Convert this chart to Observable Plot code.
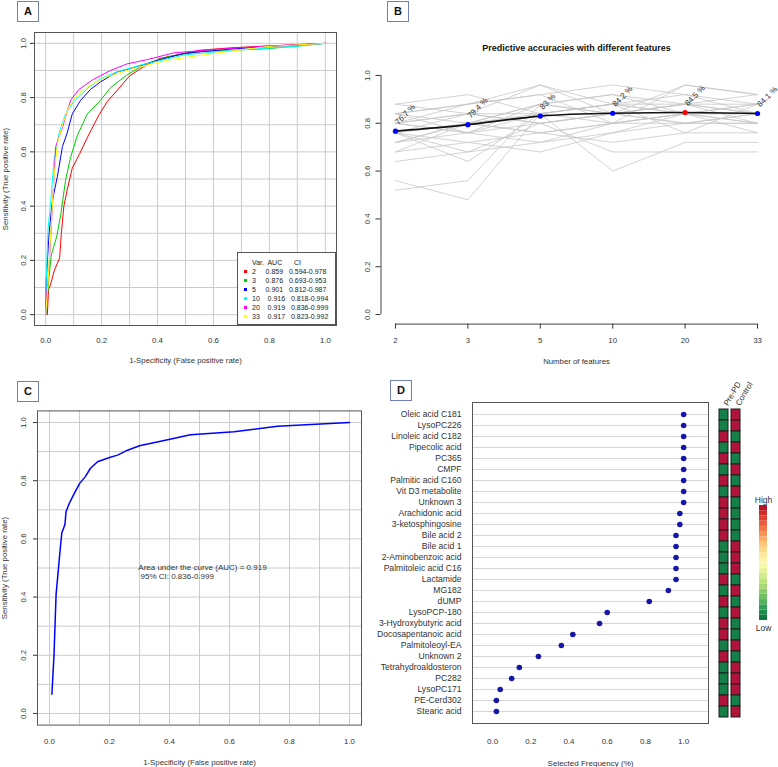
<!DOCTYPE html>
<html><head><meta charset="utf-8">
<script src="https://cdn.jsdelivr.net/npm/d3@7"></script>
<script src="https://cdn.jsdelivr.net/npm/@observablehq/plot@0.6"></script>
<style>
body{margin:0;background:#fff;font-family:"Liberation Sans",Arial,sans-serif;}
#root{position:relative;width:778px;height:767px;overflow:hidden;background:#fff;}
.pane{position:absolute;}
.pane svg{overflow:visible;display:block;}
.tag{position:absolute;width:20px;height:19px;border:1px solid #7080b6;font:bold 11px "Liberation Sans",Arial,sans-serif;text-align:center;line-height:19px;color:#111;background:#fff;}
text{white-space:pre;}
#legA{position:absolute;left:237px;top:252px;width:97px;height:71px;border:1px solid #555;background:#fff;font:7px "Liberation Sans",Arial,sans-serif;color:#222;}
#legA .row{position:absolute;left:0;height:9px;line-height:9px;white-space:pre;}
#legA .sw{position:absolute;left:6px;top:3px;width:3px;height:3px;}
#legA .tx{position:absolute;left:14px;top:0;}
</style></head>
<body><div id="root">
<div class="pane" id="pA" style="left:0;top:0;width:345px;height:370px"></div>
<div class="pane" id="pB" style="left:350px;top:0;width:428px;height:375px"></div>
<div class="pane" id="pC" style="left:0;top:380px;width:370px;height:387px"></div>
<div class="pane" id="pD" style="left:370px;top:380px;width:408px;height:387px"></div>
<div class="pane" id="pH" style="left:700px;top:380px;width:78px;height:387px"></div>
<div class="pane" id="pL" style="left:745px;top:480px;width:33px;height:160px"></div>
<div id="legA"></div>
<div class="tag" style="left:17px;top:1px">A</div>
<div class="tag" style="left:387px;top:1px">B</div>
<div class="tag" style="left:17px;top:381px">C</div>
<div class="tag" style="left:390px;top:380px">D</div>
</div>
<script>
// ---------- Panel A data ----------
const aVars = ["2","3","5","10","20","33"];
const aAUC = ["0.859","0.876","0.901","0.916","0.919","0.917"];
const aCI = ["0.594-0.978","0.693-0.953","0.812-0.987","0.818-0.994","0.836-0.999","0.823-0.992"];
const aColors = ["#ff0000","#00cd00","#0000ff","#00ffff","#ff00ff","#ffff00"];
const aRoc2 = [[0,0],[0.006,0.0],[0.01,0.09],[0.02,0.12],[0.03,0.16],[0.042,0.19],[0.05,0.21],[0.056,0.30],[0.065,0.40],[0.077,0.46],[0.095,0.54],[0.12,0.59],[0.15,0.655],[0.19,0.735],[0.22,0.785],[0.25,0.82],[0.30,0.88],[0.35,0.914],[0.41,0.945],[0.554,0.975],[0.67,0.984],[0.79,0.99],[1,1]];
const aRoc3 = [[0,0],[0.005,0.05],[0.01,0.12],[0.02,0.22],[0.04,0.29],[0.054,0.37],[0.071,0.495],[0.089,0.58],[0.113,0.66],[0.149,0.74],[0.196,0.79],[0.232,0.837],[0.29,0.883],[0.35,0.92],[0.435,0.95],[0.554,0.97],[0.79,0.98],[1,1]];
const aRoc5 = [[0,0],[0.002,0.125],[0.012,0.30],[0.024,0.42],[0.042,0.51],[0.06,0.62],[0.077,0.67],[0.095,0.74],[0.125,0.79],[0.16,0.83],[0.196,0.858],[0.256,0.895],[0.315,0.91],[0.375,0.93],[0.494,0.963],[0.673,0.98],[1,1]];
const aRoc10 = [[0,0],[0.002,0.125],[0.008,0.31],[0.018,0.42],[0.03,0.57],[0.048,0.67],[0.071,0.74],[0.10,0.785],[0.149,0.834],[0.196,0.87],[0.256,0.895],[0.34,0.92],[0.494,0.957],[0.673,0.975],[0.887,0.988],[1,1]];
const aRoc20 = [[0,0],[0.002,0.05],[0.012,0.175],[0.024,0.40],[0.036,0.62],[0.06,0.69],[0.089,0.79],[0.119,0.83],[0.167,0.865],[0.232,0.90],[0.29,0.924],[0.363,0.94],[0.458,0.965],[0.613,0.978],[0.79,0.99],[1,1]];
const aRoc33 = [[0,0],[0.008,0.11],[0.018,0.30],[0.03,0.51],[0.042,0.63],[0.06,0.70],[0.083,0.766],[0.113,0.81],[0.16,0.846],[0.22,0.877],[0.315,0.908],[0.435,0.938],[0.60,0.963],[0.79,0.988],[1,1]];
const aCurves = [aRoc2, aRoc3, aRoc5, aRoc10, aRoc20, aRoc33];
const rocTicks = [0,0.2,0.4,0.6,0.8,1.0];
const rocGrid = [0,0.1,0.2,0.3,0.4,0.5,0.6,0.7,0.8,0.9,1.0];

// ---------- Panel B data ----------
const bTitle = "Predictive accuracies with different features";
const bFeatures = [2,3,5,10,20,33];
const bAccuracy = [0.767,0.794,0.830,0.842,0.845,0.841];
const bLabels = ["76.7 %","79.4 %","83 %","84.2 %","84.5 %","84.1 %"];
const bRuns = [
 [0.56,0.48,0.84,0.88,0.84,0.84],
 [0.52,0.56,0.88,0.84,0.88,0.84],
 [0.64,0.68,0.72,0.80,0.80,0.80],
 [0.68,0.72,0.76,0.72,0.76,0.76],
 [0.72,0.76,0.80,0.84,0.80,0.84],
 [0.72,0.80,0.84,0.60,0.72,0.72],
 [0.76,0.72,0.68,0.76,0.80,0.80],
 [0.76,0.80,0.88,0.92,0.88,0.88],
 [0.76,0.84,0.96,0.88,0.92,0.88],
 [0.80,0.84,0.80,0.84,0.88,0.92],
 [0.80,0.76,0.84,0.88,0.84,0.80],
 [0.80,0.88,0.92,0.96,0.92,0.84],
 [0.84,0.80,0.76,0.80,0.84,0.88],
 [0.84,0.88,0.96,0.84,0.96,0.92],
 [0.84,0.76,0.88,0.92,0.84,0.88],
 [0.88,0.84,0.80,0.84,0.80,0.84],
 [0.88,0.92,0.84,0.88,0.88,0.84],
 [0.76,0.64,0.84,0.80,0.84,0.76],
 [0.72,0.80,0.88,0.84,0.88,0.80],
 [0.80,0.84,0.84,0.88,0.76,0.88],
 [0.68,0.80,0.76,0.80,0.84,0.84],
 [0.84,0.88,0.92,0.80,0.96,0.92],
 [0.76,0.68,0.80,0.68,0.68,0.68],
 [0.80,0.76,0.72,0.76,0.84,0.80]
];
const bYTicks = [0,0.2,0.4,0.6,0.8,1.0];

// ---------- Panel C data ----------
const cFpr = [0.008,0.015,0.022,0.03,0.037,0.041,0.05,0.052,0.055,0.065,0.078,0.10,0.12,0.136,0.16,0.20,0.227,0.26,0.30,0.39,0.47,0.615,0.76,1.0];
const cTpr = [0.066,0.20,0.41,0.50,0.58,0.62,0.645,0.655,0.693,0.72,0.747,0.79,0.815,0.842,0.865,0.88,0.888,0.905,0.92,0.94,0.958,0.968,0.987,1.0];
const cNote = "Area under the curve (AUC) = 0.919\n 95% CI: 0.836-0.999";

// ---------- Panel D data ----------
const dNames = ["Oleic acid C181","LysoPC226","Linoleic acid C182","Pipecolic acid","PC365","CMPF","Palmitic acid C160","Vit D3 metabolite","Unknown 3","Arachidonic acid","3-ketosphingosine","Bile acid 2","Bile acid 1","2-Aminobenzoic acid","Palmitoleic acid C16","Lactamide","MG182","dUMP","LysoPCP-180","3-Hydroxybutyric acid","Docosapentanoic acid","Palmitoleoyl-EA","Unknown 2","Tetrahydroaldosteron","PC282","LysoPC171","PE-Cerd302","Stearic acid"];
const dFreq = [1.0,1.0,1.0,1.0,1.0,1.0,1.0,1.0,1.0,0.98,0.98,0.96,0.96,0.96,0.96,0.96,0.92,0.82,0.60,0.56,0.42,0.36,0.24,0.14,0.10,0.04,0.02,0.02];
const dXTicks = [0,0.2,0.4,0.6,0.8,1.0];
const hmGroups = ["Pre-PD","Control"];
const dPrePD   = [0,0,1,0,1,0,1,0,1,1,1,1,0,0,0,1,0,1,0,1,1,0,1,0,0,0,1,0];
const dControl = [1,1,0,1,0,1,0,1,0,0,0,0,1,1,1,0,1,0,1,0,0,1,0,1,1,1,0,1];
const hmLegend = ["High","Low"];

// ---------- shared ----------
const FONT = '"Liberation Sans", Arial, sans-serif';
const baseStyle = {fontFamily: FONT, fontSize: "8px", color: "#333", background: "transparent", overflow: "visible"};
const f1 = d3.format(".1f");
const GRID = "#cccccc";
const rocGridMarks = () => [
  Plot.gridX({ticks: rocGrid, stroke: GRID, strokeOpacity: 1, strokeWidth: 1}),
  Plot.gridY({ticks: rocGrid, stroke: GRID, strokeOpacity: 1, strokeWidth: 1})
];

// ---------- Panel A ----------
const plotA = Plot.plot({
  width: 345, height: 370,
  marginLeft: 34, marginRight: 9, marginTop: 32, marginBottom: 45,
  style: baseStyle,
  x: {domain: [-0.04, 1.04]},
  y: {domain: [-0.04, 1.04]},
  marks: [
    ...rocGridMarks(),
    ...aCurves.map((c, k) => Plot.line(c, {x: d => d[0], y: d => d[1], stroke: aColors[k], strokeWidth: 1})),
    Plot.frame({stroke: "#555"}),
    Plot.axisX({ticks: rocTicks, tickFormat: f1, tickSize: 0, tickPadding: 12, label: "1-Specificity (False positive rate)", labelAnchor: "center", labelOffset: 37, labelArrow: "none", fontSize: 7.8}),
    Plot.axisY({ticks: rocTicks, tickFormat: f1, tickSize: 4, tickPadding: 5, tickRotate: -90, label: "Sensitivity (True positive rate)", labelAnchor: "center", labelOffset: 32.5, labelArrow: "none", fontSize: 7.8})
  ]
});
document.getElementById("pA").append(plotA);

// legend A (HTML)
const legA = document.getElementById("legA");
const hdr = document.createElement("div");
hdr.className = "row"; hdr.style.top = "5px";
hdr.innerHTML = '<span class="tx">Var.  AUC      CI</span>';
legA.append(hdr);
aVars.forEach((v, i) => {
  const r = document.createElement("div");
  r.className = "row"; r.style.top = (14 + 9 * i) + "px";
  const sp = v.length === 1 ? "     " : "    ";
  r.innerHTML = `<span class="sw" style="background:${aColors[i]}"></span><span class="tx">${v}${sp}${aAUC[i]}   ${aCI[i]}</span>`;
  legA.append(r);
});

// ---------- Panel B ----------
const bRunsLong = bRuns.flatMap((run, r) => run.map((v, i) => ({run: r, i: i + 1, v})));
const bBest = d3.maxIndex(bAccuracy);
const bMain = bAccuracy.map((v, i) => ({i: i + 1, v, label: bLabels[i], col: i === bBest ? "#ff0000" : "#0000ff"}));
const bXDom = [0.8, bFeatures.length + 0.2];
const bYDom = [-0.04, 1.04];
const plotB = Plot.plot({
  width: 428, height: 375,
  marginLeft: 30.5, marginRight: 6.5, marginTop: 65.4, marginBottom: 51.4,
  style: baseStyle,
  color: {type: "identity"},
  x: {domain: bXDom},
  y: {domain: bYDom},
  marks: [
    Plot.ruleX([bXDom[0]], {y1: bYTicks[0], y2: bYTicks[bYTicks.length - 1], stroke: "#444"}),
    Plot.ruleY([bYDom[0]], {x1: 1, x2: bFeatures.length, stroke: "#444"}),
    Plot.line(bRunsLong, {x: "i", y: "v", z: "run", stroke: "#c4c4c4", strokeWidth: 0.75}),
    Plot.line(bMain, {x: "i", y: "v", curve: "natural", stroke: "#111", strokeWidth: 1.7}),
    Plot.dot(bMain, {x: "i", y: "v", r: 2.6, fill: "col"}),
    Plot.text(bMain, {x: "i", y: "v", text: "label", rotate: -45, textAnchor: "start", dx: 1, dy: -8, fontSize: 8, fill: "#333"}),
    Plot.text([bTitle], {frameAnchor: "top", dy: -21.4, fontWeight: "bold", fontSize: 9, fill: "#111"}),
    Plot.axisX({ticks: bFeatures.map((d, i) => i + 1), tickFormat: i => String(bFeatures[i - 1]), tickSize: 5, tickPadding: 8.4, label: "Number of features", labelAnchor: "center", labelOffset: 39.4, labelArrow: "none", fontSize: 7.8}),
    Plot.axisY({ticks: bYTicks, tickFormat: f1, tickSize: 5, tickPadding: 5.6, tickRotate: -90, label: null, fontSize: 7.8})
  ]
});
document.getElementById("pB").append(plotB);

// ---------- Panel C ----------
const cData = cFpr.map((x, i) => ({x, y: cTpr[i]}));
const plotC = Plot.plot({
  width: 370, height: 387,
  marginLeft: 37, marginRight: 9, marginTop: 30.4, marginBottom: 42.4,
  style: baseStyle,
  x: {domain: [-0.04, 1.04]},
  y: {domain: [-0.04, 1.04]},
  marks: [
    ...rocGridMarks(),
    Plot.line(cData, {x: "x", y: "y", stroke: "#0000ff", strokeWidth: 1.5}),
    Plot.text([cNote], {x: 0.296, y: 0.488, textAnchor: "start", fontSize: 8, lineHeight: 1.22, fill: "#333"}),
    Plot.frame({stroke: "#555"}),
    Plot.axisX({ticks: rocTicks, tickFormat: f1, tickSize: 0, tickPadding: 13.4, label: "1-Specificity (False positive rate)", labelAnchor: "center", labelOffset: 39.4, labelArrow: "none", fontSize: 7.8}),
    Plot.axisY({ticks: rocTicks, tickFormat: f1, tickSize: 4, tickPadding: 7.1, tickRotate: -90, label: "Sensitivity (True positive rate)", labelAnchor: "center", labelOffset: 36, labelArrow: "none", fontSize: 7.8})
  ]
});
document.getElementById("pC").append(plotC);

// ---------- Panel D ----------
const dData = dNames.map((name, i) => ({name, freq: dFreq[i]}));
const plotD = Plot.plot({
  width: 408, height: 387,
  marginLeft: 102, marginRight: 70, marginTop: 22, marginBottom: 44,
  style: baseStyle,
  x: {domain: [-0.105, 1.13]},
  y: {type: "point", domain: dNames, padding: 0.95},
  marks: [
    Plot.ruleY(dData, {y: "name", stroke: "#d6d6d6"}),
    Plot.frame({stroke: "#555"}),
    Plot.dot(dData, {x: "freq", y: "name", r: 2.8, fill: "#1616a8"}),
    Plot.axisX({ticks: dXTicks, tickFormat: f1, tickSize: 0, tickPadding: 15, label: "Selected Frequency (%)", labelAnchor: "center", labelOffset: 42, labelArrow: "none", fontSize: 8}),
    Plot.axisY({tickSize: 0, tickPadding: 11, label: null, fontSize: 8.6})
  ]
});
document.getElementById("pD").append(plotD);

// ---------- Heatmap ----------
const HIGH = "#b0143a", LOW = "#157f48";
const hmLong = dNames.flatMap((name, i) => [
  {name, group: hmGroups[0], v: dPrePD[i]},
  {name, group: hmGroups[1], v: dControl[i]}
]);
const plotH = Plot.plot({
  width: 78, height: 387,
  marginLeft: 18, marginRight: 37, marginTop: 28, marginBottom: 49,
  style: baseStyle,
  color: {type: "identity"},
  x: {type: "band", domain: hmGroups, paddingInner: 0.23, paddingOuter: 0, axis: null},
  y: {type: "band", domain: dNames, padding: 0, axis: null},
  marks: [
    Plot.cell(hmLong, {x: "group", y: "name", fill: d => d.v ? HIGH : LOW, stroke: "#1c1c1c", strokeWidth: 1, inset: 0}),
    Plot.text(hmGroups, {x: d => d, frameAnchor: "top", dy: -5, dx: -1, rotate: -60, textAnchor: "start", fontSize: 8, fill: "#333"})
  ]
});
document.getElementById("pH").append(plotH);

// ---------- Colour key ----------
const keySteps = d3.range(22);
const plotL = Plot.plot({
  width: 33, height: 160,
  marginLeft: 14, marginRight: 11, marginTop: 25, marginBottom: 20,
  style: baseStyle,
  color: {type: "identity"},
  x: {domain: [0, 1], axis: null},
  y: {domain: [0, keySteps.length], axis: null},
  marks: [
    Plot.rect(keySteps, {x1: 0, x2: 1, y1: d => d, y2: d => d + 1, fill: d => d3.interpolateRdYlGn(0.04 + 0.92 * (1 - d / (keySteps.length - 1)))}),
    Plot.text([hmLegend[0]], {frameAnchor: "top", dy: -9, fontSize: 8.5, fill: "#333"}),
    Plot.text([hmLegend[1]], {frameAnchor: "bottom", dy: 10, fontSize: 8.5, fill: "#333"})
  ]
});
document.getElementById("pL").append(plotL);
</script>
</body></html>
